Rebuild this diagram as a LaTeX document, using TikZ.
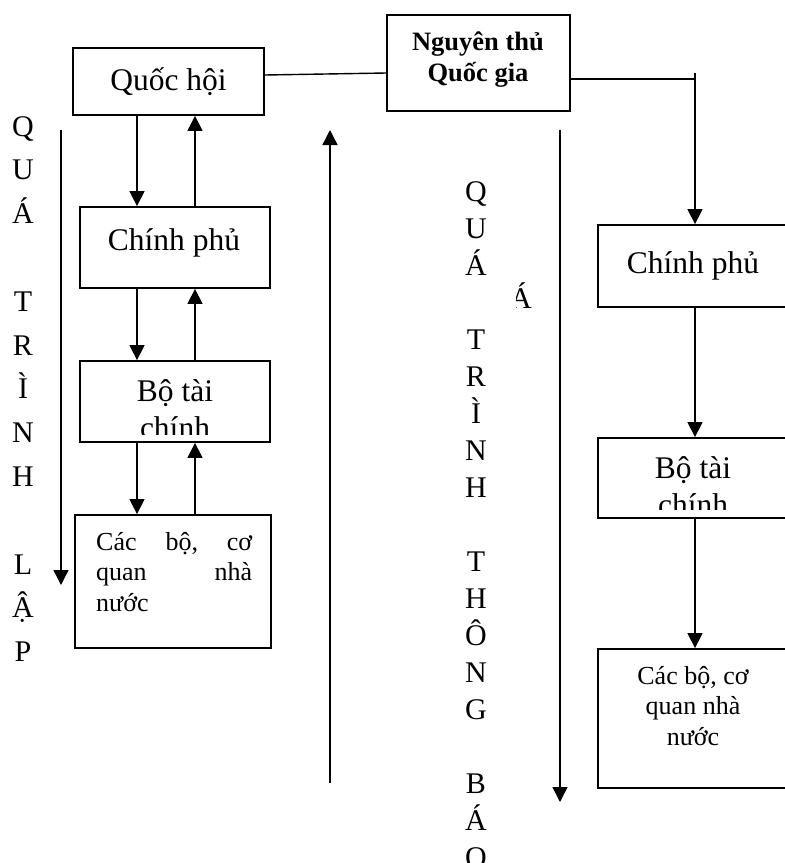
\documentclass[tikz,border=0pt]{standalone}
\usepackage{fontspec}
\setmainfont{Liberation Serif}
\usetikzlibrary{arrows.meta}
\tikzstyle{obox}=[rectangle, draw, line width=1.8pt, inner sep=0pt]
\tikzstyle{harr}=[-{Triangle[length=15pt,width=15pt]}, line width=1.4pt]
\tikzstyle{hline}=[line width=1.4pt]
\tikzstyle{maintxt}=[font=\fontsize{31.5}{37}\selectfont, inner sep=0pt]
\tikzstyle{subtxt}=[font=\fontsize{26}{30.5}\selectfont, inner sep=0pt]
\tikzstyle{vlet}=[font=\fontsize{30}{36}\selectfont, anchor=base, inner sep=0pt]

\begin{document}
\begin{tikzpicture}[x=1pt, y=-1pt]
        \useasboundingbox (0,0) rectangle (785,863);
        % left: quá trình lập
        \node[obox, maintxt, minimum width=191pt, minimum height=67pt] (qh) at (168.5,81.5) {Quốc hội};
        \node[obox, minimum width=190pt, minimum height=81pt] (cpL) at (175,247.5) {};
        \node[maintxt, anchor=base] (cpLt) at (174,250) {Chính phủ};
        \node[obox, minimum width=190pt, minimum height=81pt] (btcL) at (175,401.5) {};
        \begin{scope}
          \clip ([shift={(1pt,-1pt)}]btcL.north west) rectangle ([shift={(-1pt,8.5pt)}]btcL.south east);
          \node[maintxt, align=center, anchor=base] (btcLt) at (175,438) {Bộ tài\\chính};
        \end{scope}
        \node[obox, minimum width=196pt, minimum height=133pt] (cbL) at (173,581.5) {};
        \node[subtxt, text width=156pt, align=left, anchor=base west] (cbLt) at (96,550)
          {Các\hfill bộ,\hfill cơ\\quan\hfill nhà\\nước};
        \coordinate (dn) at (137,0);
        \coordinate (up) at (195,0);
        \draw[harr] (qh.south -| dn) -- (cpL.north -| dn);
        \draw[harr] (cpL.north -| up) -- (qh.south -| up);
        \draw[harr] (cpL.south -| dn) -- (btcL.north -| dn);
        \draw[harr] (btcL.north -| up) -- (cpL.south -| up);
        \draw[harr] (btcL.south -| dn) -- (cbL.north -| dn);
        \draw[harr] (cbL.north -| up) -- (btcL.south -| up);
        \foreach \ch/\k in {Q/0,U/1,Á/2,T/4,R/5,Ì/6,N/7,H/8,L/10,Ậ/11,P/12}
          \node[vlet] (lv\k) at (23,136+43.8*\k) {\ch};
        \coordinate (lpA) at (61,130);
        \coordinate (lpB) at (61,585);
        \draw[harr] (lpA) -- (lpB);

        % top: nguyên thủ quốc gia
        \node[obox, minimum width=183pt, minimum height=96pt] (ntqg) at (478.5,63) {};
        \node[font=\fontsize{26.5}{31}\selectfont\bfseries, align=center, inner sep=0pt,
          anchor=base] (ntqgt) at (478,81) {Nguyên thủ\\Quốc gia};
        \draw[hline] ([yshift=6.5pt]qh.east) -- ([yshift=-10pt]ntqg.west);
        \coordinate (mupA) at (330,783);
        \coordinate (mupB) at (330,130);
        \draw[harr] (mupA) -- (mupB);

        % right: quá trình thông báo
        \node[obox, maintxt, minimum width=190pt, minimum height=82pt] (cpR) at (693,266) {Chính phủ};
        \node[obox, minimum width=190pt, minimum height=80pt] (btcR) at (693,478) {};
        \begin{scope}
          \clip ([shift={(1pt,-1pt)}]btcR.north west) rectangle ([shift={(-1pt,9.5pt)}]btcR.south east);
          \node[maintxt, align=center, anchor=base] (btcRt) at (693,515) {Bộ tài\\chính};
        \end{scope}
        \node[obox, minimum width=190pt, minimum height=139pt] (cbR) at (693,718.5) {};
        \node[subtxt, align=center, anchor=base] (cbRt) at (693,745) {Các bộ, cơ\\quan nhà\\nước};
        \coordinate (tr) at (695,79);
        \draw[hline] (ntqg.east |- tr) -- (tr);
        \draw[harr] ([yshift=6pt]tr) -- (cpR.north -| tr);
        \draw[harr] (cpR.south -| tr) -- (btcR.north -| tr);
        \draw[harr] (btcR.south -| tr) -- (cbR.north -| tr);
        \foreach \ch/\k in {Q/0,U/1,Á/2,T/4,R/5,Ì/6,N/7,H/8,T/10,H/11,Ô/12,N/13,G/14,B/16,Á/17,O/18}
          \node[vlet] (rv\k) at (476,201+37*\k) {\ch};
        \coordinate (mdnA) at (560,130);
        \coordinate (mdnB) at (560,802);
        \draw[harr] (mdnA) -- (mdnB);
        \begin{scope}
          \clip (516,270) rectangle (545,320);
          \node[vlet] (stray) at (521,308) {Á};
        \end{scope}
\end{tikzpicture}
\end{document}
